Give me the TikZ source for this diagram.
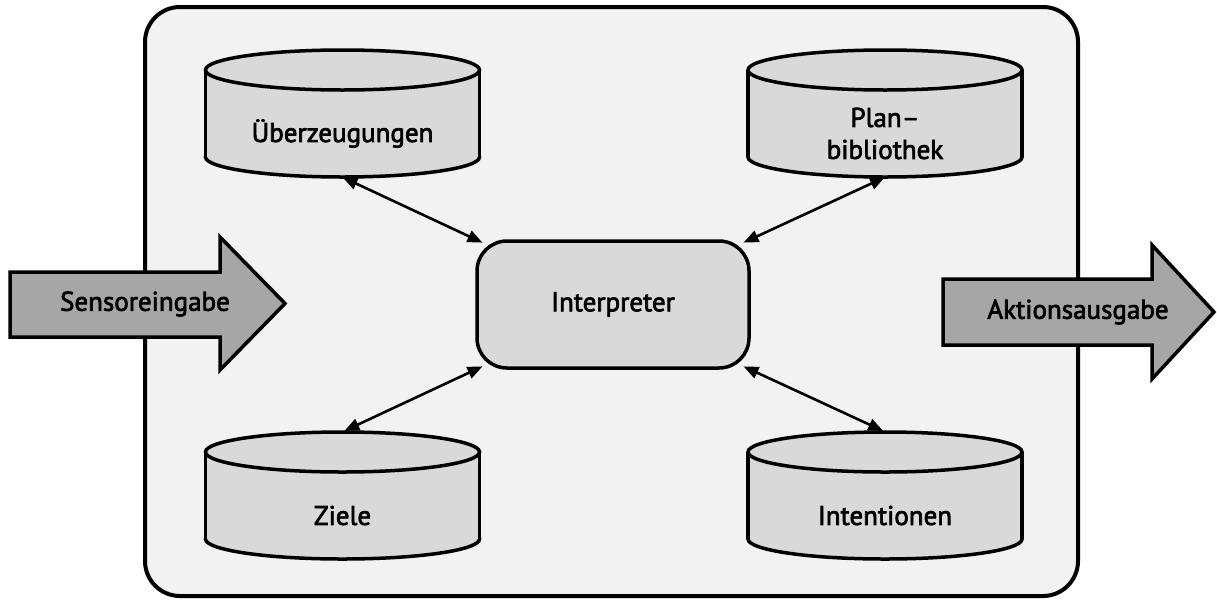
\documentclass[tikz,border=0pt]{standalone}
\usepackage{fontspec}
\setmainfont{PT Sans}
\newfontfamily\labelfont{PT Sans}[FakeBold=2.6]
\usetikzlibrary{arrows.meta}
\definecolor{panel}{HTML}{F2F2F2}
\definecolor{store}{HTML}{D9D9D9}
\definecolor{flow}{HTML}{A6A6A6}
\pgfdeclarelayer{panelayer}
\pgfdeclarelayer{linklayer}
\pgfsetlayers{panelayer,linklayer,main}

\tikzset{
  lbl/.style={font=\labelfont\fontsize{27}{32}\selectfont, text=black, inner sep=0pt, align=center},
  cylline/.style={draw=black, fill=store, line width=3.5pt},
  link/.style={line width=2.6pt, {Triangle[length=15pt,width=12pt]}-{Triangle[length=15pt,width=12pt]}},
  bigarrow/.style={draw=black, fill=flow, line width=3.5pt, line join=miter},
}

% data store drawn as a cylinder: name, centre x, top ellipse y, label
\newcommand\storecyl[4]{%
  \begin{scope}[shift={(#2,#3)}]
    \filldraw[cylline] (0,87) ellipse [x radius=137, y radius=20];
    \fill[store] (-137,0) rectangle (137,87);
    \draw[cylline] (-137,0) -- (-137,87) (137,0) -- (137,87);
    \filldraw[cylline] (0,0) ellipse [x radius=137, y radius=20];
    \node[lbl] at (0,63.5) {#4};
    \node[minimum width=274pt, minimum height=127pt, inner sep=0pt] (#1) at (0,43.5) {};
  \end{scope}}

\begin{document}
\begin{tikzpicture}[x=1pt, y=-1pt]
  \useasboundingbox (0,0) rectangle (1217,600);

  \begin{pgfonlayer}{panelayer}
    \draw[line width=4pt, fill=panel, rounded corners=35pt] (145,7) rectangle (1078,596);
  \end{pgfonlayer}

  % stores
  \storecyl{ueb}{342.5}{70}{Überzeugungen}
  \storecyl{plan}{885}{70}{Plan–\\bibliothek}
  \storecyl{ziele}{342.5}{452}{Ziele}
  \storecyl{intent}{885}{452}{Intentionen}

  % interpreter
  \node[draw=black, fill=store, line width=3.5pt, rounded corners=30pt,
        minimum width=272pt, minimum height=127pt, inner sep=0pt, lbl] (interp) at (613,304.5) {Interpreter};

  % connectors
  \begin{pgfonlayer}{linklayer}
    \draw[link, shorten >=-8pt] (ueb.south) -- (interp.north west);
    \draw[link, shorten >=-8pt] (plan.south) -- (interp.north east);
    \draw[link, shorten >=-8pt, shorten <=2pt] (ziele.north) -- (interp.south west);
    \draw[link, shorten >=-8pt, shorten <=2pt] (intent.north) -- (interp.south east);
  \end{pgfonlayer}

  % input and output arrows
  \draw[bigarrow] (10,272) -- (220,272) -- (220,237) -- (285,303.5) -- (220,370) -- (220,337) -- (10,337) -- cycle;
  \node[lbl] (sens) at (145,304) {Sensoreingabe};
  \draw[bigarrow] (943,279) -- (1152,279) -- (1152,245) -- (1214,312) -- (1152,379) -- (1152,345) -- (943,345) -- cycle;
  \node[lbl] (akt) at (1078,312) {Aktionsausgabe};
\end{tikzpicture}
\end{document}
